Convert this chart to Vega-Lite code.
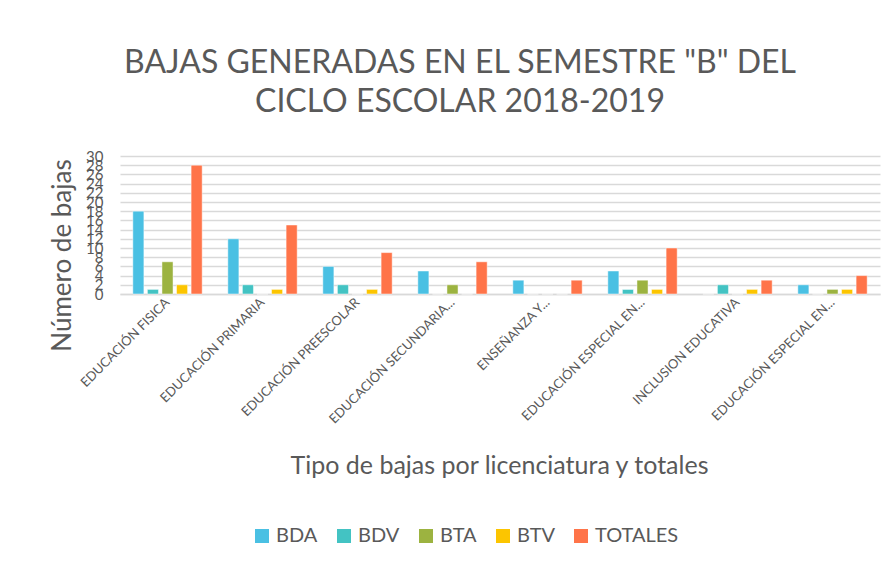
{
  "$schema": "https://vega.github.io/schema/vega-lite/v6.json",
  "width": 760,
  "height": 138,
  "autosize": {"type": "none"},
  "padding": {"left": 120, "top": 156, "right": 15, "bottom": 271},
  "background": "white",
  "title": {
    "text": ["BAJAS GENERADAS EN EL SEMESTRE \"B\" DEL", "CICLO ESCOLAR 2018-2019"],
    "font": "Lato",
    "fontSize": 32,
    "fontWeight": "normal",
    "color": "#595959",
    "anchor": "middle",
    "dx": -40,
    "offset": 30,
    "lineHeight": 39
  },
  "data": {
    "values": [
      {"orden": 1, "tipo": "BDA", "bajas": 18}, {"orden": 1, "tipo": "BDV", "bajas": 1}, {"orden": 1, "tipo": "BTA", "bajas": 7}, {"orden": 1, "tipo": "BTV", "bajas": 2}, {"orden": 1, "tipo": "TOTALES", "bajas": 28},
      {"orden": 2, "tipo": "BDA", "bajas": 12}, {"orden": 2, "tipo": "BDV", "bajas": 2}, {"orden": 2, "tipo": "BTA", "bajas": 0}, {"orden": 2, "tipo": "BTV", "bajas": 1}, {"orden": 2, "tipo": "TOTALES", "bajas": 15},
      {"orden": 3, "tipo": "BDA", "bajas": 6}, {"orden": 3, "tipo": "BDV", "bajas": 2}, {"orden": 3, "tipo": "BTA", "bajas": 0}, {"orden": 3, "tipo": "BTV", "bajas": 1}, {"orden": 3, "tipo": "TOTALES", "bajas": 9},
      {"orden": 4, "tipo": "BDA", "bajas": 5}, {"orden": 4, "tipo": "BDV", "bajas": 0}, {"orden": 4, "tipo": "BTA", "bajas": 2}, {"orden": 4, "tipo": "BTV", "bajas": 0}, {"orden": 4, "tipo": "TOTALES", "bajas": 7},
      {"orden": 5, "tipo": "BDA", "bajas": 3}, {"orden": 5, "tipo": "BDV", "bajas": 0}, {"orden": 5, "tipo": "BTA", "bajas": 0}, {"orden": 5, "tipo": "BTV", "bajas": 0}, {"orden": 5, "tipo": "TOTALES", "bajas": 3},
      {"orden": 6, "tipo": "BDA", "bajas": 5}, {"orden": 6, "tipo": "BDV", "bajas": 1}, {"orden": 6, "tipo": "BTA", "bajas": 3}, {"orden": 6, "tipo": "BTV", "bajas": 1}, {"orden": 6, "tipo": "TOTALES", "bajas": 10},
      {"orden": 7, "tipo": "BDA", "bajas": 0}, {"orden": 7, "tipo": "BDV", "bajas": 2}, {"orden": 7, "tipo": "BTA", "bajas": 0}, {"orden": 7, "tipo": "BTV", "bajas": 1}, {"orden": 7, "tipo": "TOTALES", "bajas": 3},
      {"orden": 8, "tipo": "BDA", "bajas": 2}, {"orden": 8, "tipo": "BDV", "bajas": 0}, {"orden": 8, "tipo": "BTA", "bajas": 1}, {"orden": 8, "tipo": "BTV", "bajas": 1}, {"orden": 8, "tipo": "TOTALES", "bajas": 4}
    ]
  },
  "mark": {"type": "bar", "stroke": "white", "strokeWidth": 0.8, "strokeOpacity": 0.6},
  "encoding": {
    "x": {
      "field": "orden",
      "type": "nominal",
      "scale": {"paddingInner": 0.27, "paddingOuter": 0.135},
      "axis": {
        "title": "Tipo de bajas por licenciatura y totales",
        "titleFont": "Lato",
        "titleFontSize": 25,
        "titleFontWeight": "normal",
        "titleColor": "#595959",
        "titleX": 379,
        "titleY": 171,
        "titleAlign": "center",
        "titleBaseline": "middle",
        "labelExpr": "['EDUCACIÓN FISICA','EDUCACIÓN PRIMARIA','EDUCACIÓN PREESCOLAR','EDUCACIÓN SECUNDARIA...','ENSEÑANZA Y...','EDUCACIÓN ESPECIAL EN...','INCLUSION EDUCATIVA','EDUCACIÓN ESPECIAL EN...'][datum.value - 1]",
        "labelAngle": -45,
        "labelAlign": "right",
        "labelBaseline": "middle",
        "labelFont": "Lato",
        "labelFontSize": 13,
        "labelColor": "#595959",
        "labelPadding": 6,
        "ticks": false,
        "domainColor": "#D9D9D9",
        "domainWidth": 1.5
      }
    },
    "xOffset": {"field": "tipo", "type": "nominal", "sort": ["BDA", "BDV", "BTA", "BTV", "TOTALES"], "scale": {"paddingInner": 0.24, "paddingOuter": 0}},
    "y": {
      "field": "bajas",
      "type": "quantitative",
      "scale": {"domain": [0, 30], "nice": false},
      "axis": {
        "title": "Número de bajas",
        "titleFont": "Lato",
        "titleFontSize": 26,
        "titleFontWeight": "normal",
        "titleColor": "#595959",
        "titleAngle": -90,
        "titleX": -58,
        "titleY": 99,
        "titleAlign": "center",
        "titleBaseline": "middle",
        "values": [0, 2, 4, 6, 8, 10, 12, 14, 16, 18, 20, 22, 24, 26, 28, 30],
        "labelOverlap": false,
        "labelFont": "Lato",
        "labelFontSize": 15,
        "labelColor": "#595959",
        "labelPadding": 17,
        "ticks": false,
        "domain": false,
        "gridColor": "#D9D9D9",
        "gridWidth": 1.5
      }
    },
    "color": {
      "field": "tipo",
      "type": "nominal",
      "sort": ["BDA", "BDV", "BTA", "BTV", "TOTALES"],
      "scale": {"domain": ["BDA", "BDV", "BTA", "BTV", "TOTALES"], "range": ["#4AC0E3", "#43C3C3", "#9CB340", "#FCC500", "#FF7449"]},
      "legend": {
        "title": null,
        "orient": "none",
        "direction": "horizontal",
        "legendX": 132,
        "legendY": 370,
        "symbolType": "square",
        "symbolSize": 196,
        "symbolStrokeWidth": 0,
        "labelFont": "Lato",
        "labelFontSize": 20,
        "labelColor": "#595959",
        "columnPadding": 16
      }
    }
  },
  "config": {"view": {"stroke": null}}
}
